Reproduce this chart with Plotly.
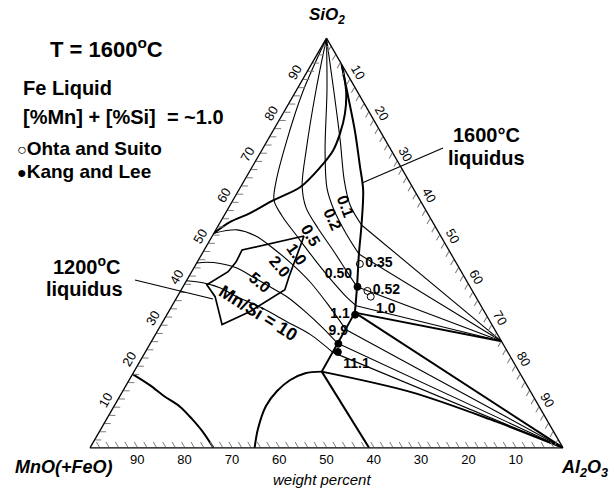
import plotly.graph_objects as go

W, H = 614, 492
ML, MR, MT, MB = 90, 51, 37, 43
PW, PH = W - ML - MR, H - MT - MB
FONT = "Liberation Sans, Arial, Helvetica, sans-serif"

# ---- compositions, wt% (SiO2, MnO, Al2O3) ----
apex = (100.0, 0.0, 0.0)
mullite = (26.0, 0.0, 74.0)
corundum = (0.0, 0.0, 100.0)
galaxite = (0.0, 41.0, 59.0)
junction = (33.0, 27.5, 39.5)
dome_peak = (18.6, 41.7, 39.7)

liq1600_upper = [(52.4, 47.6, 0.0), (55.1, 42.9, 2.0), (57.3, 37.5, 5.2), (60.4, 31.1, 8.5),
                 (63.6, 23.8, 12.6), (68.4, 17.2, 14.4), (72.6, 12.3, 15.1), (76.7, 8.8, 14.5),
                 (81.6, 5.3, 13.1), (87.1, 2.3, 10.6), (93.6, 0.0, 6.4)]
liq1600_sio2_sat = [(93.6, 0.0, 6.4), (85.9, 2.5, 11.6), (77.4, 5.3, 17.3), (68.9, 8.5, 22.6),
                    (62.9, 10.8, 26.3), (54.4, 15.4, 30.2), (47.3, 19.5, 33.2), (39.3, 23.9, 36.8),
                    (33.0, 27.5, 39.5)]
galaxite_dome = [(0.0, 65.2, 34.8), (4.6, 62.2, 33.2), (10.2, 57.7, 32.1), (13.8, 53.6, 32.6),
                 (16.5, 49.5, 34.0), (18.2, 45.4, 36.4), (18.6, 41.7, 39.7)]
mno_field = [(18.0, 82.0, 0.0), (15.3, 79.7, 5.0), (12.6, 78.0, 9.4), (10.0, 76.0, 14.1),
             (7.0, 74.9, 18.1), (3.9, 74.2, 21.9), (0.0, 73.9, 26.1)]
peak_to_corundum = [(18.6, 41.7, 39.7), (13.6, 25.3, 61.1), (7.0, 12.0, 81.0), (0.0, 0.0, 100.0)]
liq1200 = [(51.7, 28.9, 19.4), (48.3, 43.7, 8.0), (45.4, 46.4, 8.2), (43.0, 49.3, 7.7),
           (39.8, 55.4, 4.8), (36.9, 55.1, 8.0), (30.1, 57.1, 12.9), (33.3, 49.5, 17.2),
           (38.6, 39.5, 21.9), (41.7, 37.1, 21.2), (51.7, 28.9, 19.4)]

# iso Mn/Si lines (liquid part); each ends in a tie line to mullite or corundum
iso_0_1 = [(100.0, 0.0, 0.0), (87.1, 4.9, 8.0), (75.0, 9.6, 15.4), (65.3, 13.6, 21.1),
           (59.2, 15.4, 25.4), (54.4, 15.4, 30.2)]
iso_0_2 = [(100.0, 0.0, 0.0), (87.1, 6.3, 6.5), (72.6, 14.0, 13.4), (63.4, 18.2, 18.4),
           (58.0, 19.4, 22.6), (52.4, 19.7, 27.9), (47.3, 19.5, 33.2)]
iso_0_5 = [(100.0, 0.0, 0.0), (87.1, 8.7, 4.2), (72.6, 18.0, 9.4), (64.1, 23.1, 12.8),
           (58.7, 25.0, 16.3), (53.6, 25.0, 21.4), (48.3, 24.5, 27.2), (43.4, 24.2, 32.4),
           (39.3, 23.9, 36.8)]
iso_1_0 = [(100.0, 0.0, 0.0), (87.1, 11.4, 1.5), (75.0, 20.9, 4.1), (64.8, 28.3, 6.9),
           (60.4, 30.9, 8.7), (56.6, 31.1, 12.3), (51.7, 30.4, 17.9), (45.9, 29.5, 24.6),
           (40.5, 28.4, 31.1), (36.9, 27.4, 35.7), (34.7, 26.4, 38.9)]
iso_2_0 = [(52.4, 47.6, 0.0), (53.2, 42.3, 4.5), (51.7, 39.1, 9.2), (48.5, 36.8, 14.6),
           (44.9, 34.9, 20.3), (40.5, 33.2, 26.2), (35.0, 32.2, 32.8), (28.9, 31.5, 39.6)]
iso_5_0 = [(45.1, 54.9, 0.0), (45.3, 52.6, 2.1), (45.0, 50.0, 5.0), (43.9, 47.0, 9.1),
           (41.7, 44.7, 13.6), (39.3, 42.3, 18.4), (36.7, 39.8, 23.5), (33.3, 37.9, 28.8),
           (29.4, 36.2, 34.4), (25.5, 34.9, 39.6)]
iso_10 = [(40.8, 59.2, 0.0), (40.3, 56.0, 3.7), (39.1, 53.0, 7.9), (36.9, 50.5, 12.6),
          (34.0, 46.4, 19.6), (30.8, 43.0, 26.2), (27.7, 39.6, 32.7), (23.3, 37.0, 39.7)]
iso_to_mullite = [iso_0_1, iso_0_2, iso_0_5, iso_1_0]
iso_to_corundum = [iso_2_0, iso_5_0, iso_10]

# measured points
kang_pts = [(39.3, 23.8, 36.9), (32.5, 27.7, 39.8), (25.4, 34.8, 39.8), (23.4, 35.9, 40.7)]
kang_labels = ["0.50", "1.1", "9.9", "11.1"]
kang_pos = ["top left", "middle left", "top center", "bottom right"]
ohta_pts = [(44.9, 20.5, 34.6), (38.3, 22.2, 39.5), (36.9, 22.2, 40.9)]
ohta_labels = ["0.35", "0.52", "1.0"]
ohta_pos = ["middle right", "middle right", "bottom right"]

tick_vals = list(range(2, 100, 2))
tick_text = [str(v) if v % 10 == 0 else " " for v in tick_vals]

fig = go.Figure()


def add_line(pts, width, shape="linear"):
    fig.add_trace(go.Scatterternary(
        a=[p[0] for p in pts], b=[p[1] for p in pts], c=[p[2] for p in pts],
        mode="lines", line=dict(color="black", width=width, shape=shape, smoothing=0.9),
        hoverinfo="skip", showlegend=False, cliponaxis=False))


# thin iso lines and tie lines
for iso in iso_to_mullite:
    add_line(iso, 1.1, "spline")
    add_line([iso[-1], mullite], 1.1)
for iso in iso_to_corundum:
    add_line(iso, 1.1, "spline")
    add_line([iso[-1], corundum], 1.1)

# thick phase boundaries
add_line(liq1600_upper, 2.0, "spline")
add_line(liq1600_sio2_sat, 2.0, "spline")
add_line([junction, dome_peak], 2.0)
add_line([junction, mullite], 2.0)
add_line([junction, corundum], 2.0)
add_line(peak_to_corundum, 2.0, "spline")
add_line(galaxite_dome, 2.0, "spline")
add_line([dome_peak, galaxite], 2.0)
add_line(mno_field, 2.0, "spline")
add_line(liq1200, 1.7)


def add_points(pts, labels, pos, symbol):
    fig.add_trace(go.Scatterternary(
        a=[p[0] for p in pts], b=[p[1] for p in pts], c=[p[2] for p in pts],
        mode="markers+text", text=["<b>%s</b>" % t for t in labels], textposition=pos,
        textfont=dict(family=FONT, size=14, color="black"),
        marker=dict(symbol=symbol, size=7, color="black", line=dict(color="black", width=1)),
        hoverinfo="skip", showlegend=False, cliponaxis=False))


add_points(ohta_pts, ohta_labels, ohta_pos, "circle-open")
add_points(kang_pts, kang_labels, kang_pos, "circle")


def axis(angle):
    return dict(title=dict(text=""), min=0, linecolor="black", linewidth=1.3,
                showgrid=False, ticks="inside", ticklen=6, tickwidth=1, tickcolor="#7a7a7a",
                tickmode="array", tickvals=tick_vals, ticktext=tick_text, tickangle=angle,
                tickfont=dict(family=FONT, size=13, color="black"), layer="above traces")


fig.update_layout(
    width=W, height=H, margin=dict(l=ML, r=MR, t=MT, b=MB),
    paper_bgcolor="white", plot_bgcolor="white", showlegend=False,
    ternary=dict(sum=100, bgcolor="white", aaxis=axis(-60), baxis=axis(0), caxis=axis(60)),
)


def P(x, y):
    return (x - ML) / PW, (H - MB - y) / PH


anns = []


def ann(text, x, y, size, angle=0, xanchor="center", style="b"):
    px, py = P(x, y)
    if style:
        text = "<%s>%s</%s>" % (style, text, style)
    anns.append(dict(text=text, x=px, y=py, xref="paper", yref="paper", showarrow=False,
                     xanchor=xanchor, yanchor="middle", textangle=angle,
                     font=dict(family=FONT, size=size, color="black")))


ann("T = 1600<sup>o</sup>C", 106, 48, 22)
ann("Fe Liquid", 21, 88, 20, xanchor="left")
ann("[%Mn] + [%Si] &nbsp;= ~1.0", 21, 117, 20, xanchor="left")
ann("<span style='font-size:16px'>○</span>Ohta and Suito", 15, 148, 19, xanchor="left")
ann("<span style='font-size:16px'>●</span>Kang and Lee", 15, 171, 19, xanchor="left")
ann("1600°C", 486, 135, 20)
ann("liquidus", 486, 158, 20)
ann("1200<sup>o</sup>C", 87, 265, 20)
ann("liquidus", 84, 289, 20)
ann("<b><i>SiO<sub>2</sub></i></b>", 327, 16, 17, style="")
ann("<b><i>MnO(+FeO)</i></b>", 64, 467, 18, style="")
ann("<b><i>Al<sub>2</sub>O<sub>3</sub></i></b>", 584, 468, 18, style="")
ann("weight percent", 322, 479, 15, style="i")
ann("0.1", 346, 206, 16, angle=70)
ann("0.2", 333, 219, 16, angle=66)
ann("0.5", 311, 235, 16, angle=60)
ann("1.0", 297, 254, 16, angle=55)
ann("2.0", 280, 266, 16, angle=50)
ann("5.0", 260, 282, 16, angle=40)
ann("Mn/Si = 10", 258, 313, 18, angle=32)

shapes = []
for (x0, y0, x1, y1) in [(443, 148, 362, 183), (135, 280, 213, 299)]:
    a0, b0 = P(x0, y0)
    a1, b1 = P(x1, y1)
    shapes.append(dict(type="line", xref="paper", yref="paper", x0=a0, y0=b0, x1=a1, y1=b1,
                       line=dict(color="black", width=1.2)))

fig.update_layout(annotations=anns, shapes=shapes)
fig.write_html("out.html")
